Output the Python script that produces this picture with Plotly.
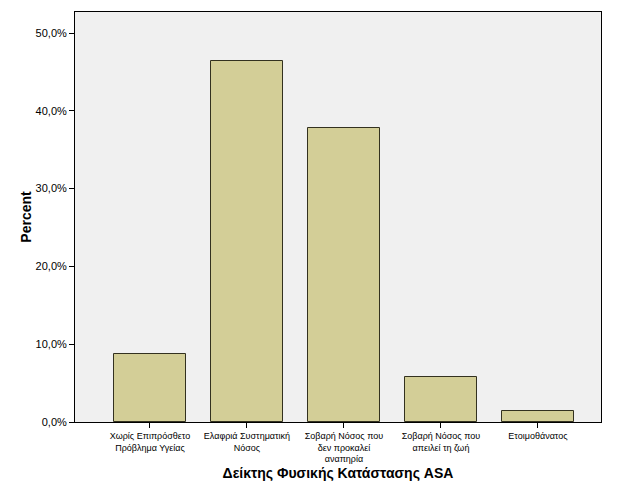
import plotly.graph_objects as go

categories = [
    "Χωρίς Επιπρόσθετο<br>Πρόβλημα Υγείας",
    "Ελαφριά Συστηματική<br>Νόσος",
    "Σοβαρή Νόσος που<br>δεν προκαλεί<br>αναπηρία",
    "Σοβαρή Νόσος που<br>απειλεί τη ζωή",
    "Ετοιμοθάνατος",
]
percent_values = [8.7, 46.4, 37.8, 5.8, 1.4]
y_tick_values = [0, 10, 20, 30, 40, 50]
y_tick_labels = ["0,0%", "10,0%", "20,0%", "30,0%", "40,0%", "50,0%"]

fig = go.Figure(
    go.Bar(
        x=list(range(len(categories))),
        y=percent_values,
        width=0.75,
        marker=dict(color="#D3CE97", line=dict(color="#33311F", width=1)),
    )
)

fig.update_layout(
    width=625,
    height=499,
    margin=dict(l=75, r=24, t=12, b=77),
    paper_bgcolor="white",
    plot_bgcolor="#F0F0F0",
    font=dict(family="Liberation Sans, Arial, sans-serif", color="black"),
    showlegend=False,
    bargap=0,
)

fig.update_xaxes(
    range=[-0.773, 4.65],
    tickmode="array",
    tickvals=list(range(len(categories))),
    ticktext=categories,
    tickfont=dict(size=9),
    ticks="outside",
    ticklen=5,
    tickcolor="black",
    showgrid=False,
    zeroline=False,
    showline=True,
    linecolor="black",
    linewidth=1,
    mirror=True,
    title=dict(text="<b>Δείκτης Φυσικής Κατάστασης ASA</b>", font=dict(size=14), standoff=4),
)

fig.update_yaxes(
    range=[0, 52.7],
    tickmode="array",
    tickvals=y_tick_values,
    ticktext=y_tick_labels,
    tickfont=dict(size=11),
    ticks="outside",
    ticklen=5,
    tickcolor="black",
    showgrid=False,
    zeroline=False,
    showline=True,
    linecolor="black",
    linewidth=1,
    mirror=True,
    title=dict(text="<b>Percent</b>", font=dict(size=14), standoff=0),
)

fig.write_html("out.html")
